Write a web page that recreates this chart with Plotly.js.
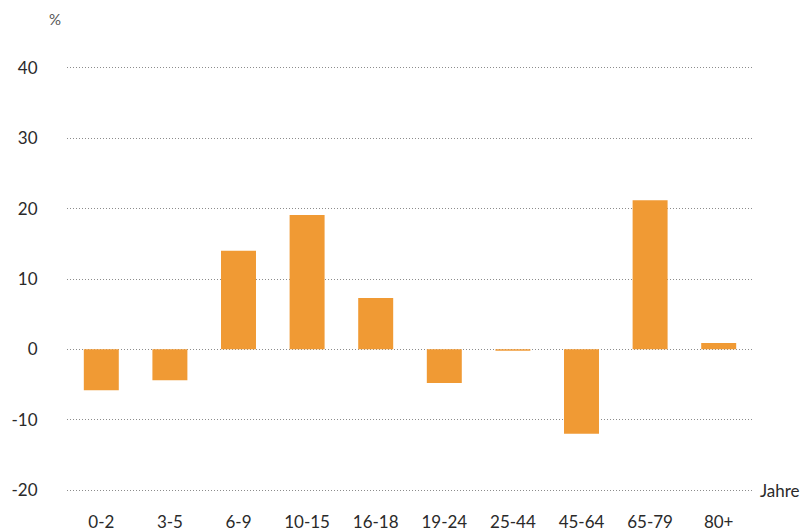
<!DOCTYPE html>
<html>
<head>
<meta charset="utf-8">
<script src="https://cdn.plot.ly/plotly-3.0.1.min.js"></script>
<style>html,body{margin:0;padding:0;background:#fff;}#chart{width:807px;height:532px;}</style>
</head>
<body>
<div id="chart"></div>
<script>
const categories = ["0-2", "3-5", "6-9", "10-15", "16-18", "19-24", "25-44", "45-64", "65-79", "80+"];
const values = [-5.8, -4.4, 14.0, 19.1, 7.3, -4.8, -0.2, -12.0, 21.2, 0.9];
const yTicks = [-20, -10, 0, 10, 20, 30, 40];
const yTickLabels = ["-20", "-10", "0", "10", "20", "30", "40"];
const unitLabel = "%";
const axisLabel = "Jahre";

const fontFamily = "Lato, 'Open Sans', sans-serif";
const textColor = "#2a2a2a";

const trace = {
  type: "bar",
  x: categories,
  y: values,
  marker: {color: "#F09A34", line: {width: 0}},
  hoverinfo: "x+y"
};

const layout = {
  width: 807,
  height: 532,
  margin: {l: 67, r: 54, t: 66, b: 40, pad: 0},
  paper_bgcolor: "#ffffff",
  plot_bgcolor: "#ffffff",
  showlegend: false,
  bargap: 0.49,
  font: {family: fontFamily, size: 17, color: textColor},
  xaxis: {
    type: "category",
    showgrid: false,
    zeroline: false,
    showline: false,
    ticks: "outside",
    ticklen: 15,
    tickcolor: "rgba(0,0,0,0)",
    tickfont: {family: fontFamily, size: 17, color: textColor},
    fixedrange: true
  },
  yaxis: {
    range: [-20.28, 40.28],
    tickvals: yTicks,
    ticktext: yTickLabels,
    showgrid: true,
    gridcolor: "#8c8c8c",
    gridwidth: 1,
    griddash: "1px,2px",
    zeroline: false,
    showline: false,
    ticks: "outside",
    ticklen: 25,
    tickcolor: "rgba(0,0,0,0)",
    tickfont: {family: fontFamily, size: 17, color: textColor},
    fixedrange: true
  },
  annotations: [
    {text: unitLabel, xref: "paper", yref: "paper", x: -0.006, y: 1.11, xanchor: "right", yanchor: "middle", showarrow: false, font: {family: fontFamily, size: 15, color: "#555555"}},
    {text: axisLabel, xref: "paper", yref: "y", x: 1.008, y: -20, xanchor: "left", yanchor: "middle", showarrow: false, font: {family: fontFamily, size: 17, color: textColor}}
  ]
};

Plotly.newPlot("chart", [trace], layout, {displayModeBar: false, staticPlot: true});
</script>
</body>
</html>
